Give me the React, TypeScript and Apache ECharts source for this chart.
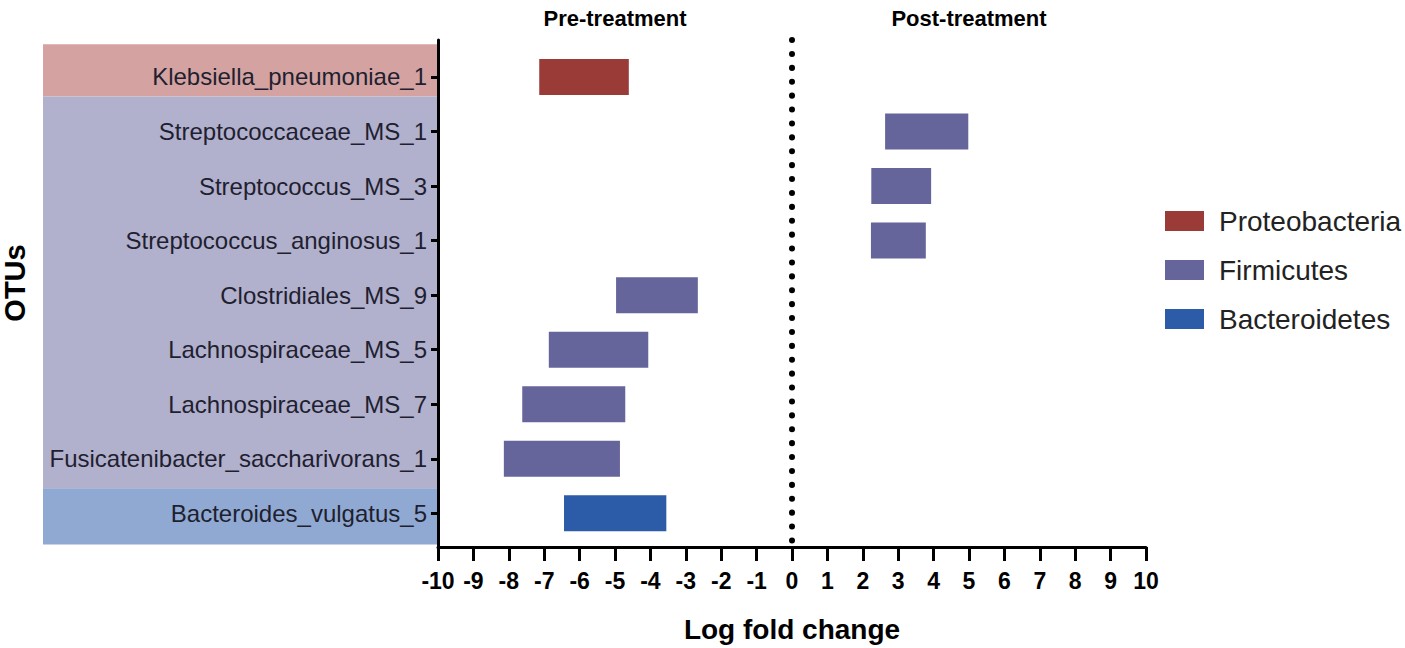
import React, { useEffect, useRef } from "react";
import * as echarts from "echarts";

const otus = [
  "Klebsiella_pneumoniae_1",
  "Streptococcaceae_MS_1",
  "Streptococcus_MS_3",
  "Streptococcus_anginosus_1",
  "Clostridiales_MS_9",
  "Lachnospiraceae_MS_5",
  "Lachnospiraceae_MS_7",
  "Fusicatenibacter_saccharivorans_1",
  "Bacteroides_vulgatus_5",
];
const phyla = ["Proteobacteria", "Firmicutes", "Bacteroidetes"];
const phylumColors = ["#9a3b38", "#66659b", "#2c5ba7"];
const bandColors = ["#d4a3a1", "#b1b0cd", "#8fa9d2"];
// [start, end, otuIndex]
const proteobacteria = [[-7.14, -4.61, 0]];
const firmicutes = [
  [2.63, 4.98, 1],
  [2.24, 3.93, 2],
  [2.23, 3.78, 3],
  [-4.97, -2.66, 4],
  [-6.87, -4.06, 5],
  [-7.62, -4.71, 6],
  [-8.14, -4.86, 7],
];
const bacteroidetes = [[-6.44, -3.55, 8]];
// background bands [fromIndex, toIndex, phylumIndex]
const bands = [
  [-0.6, 0.36, 0],
  [0.36, 7.54, 1],
  [7.54, 8.57, 2],
];
const xTicks = { min: -10, max: 10, interval: 1 };
const yRange = { min: -0.677, max: 8.617 };

const FONT = "'Liberation Sans', Arial, sans-serif";

export default function App() {
  const ref = useRef<HTMLDivElement>(null);
  useEffect(() => {
    const chart = echarts.init(ref.current!, null, { renderer: "svg" });
    const barRender = (params: any, api: any) => {
      const s = api.coord([api.value(0), api.value(2)]);
      const e = api.coord([api.value(1), api.value(2)]);
      const h = api.size([0, 0.66])[1];
      return {
        type: "rect",
        shape: { x: s[0], y: s[1] - h / 2, width: e[0] - s[0], height: h },
        style: api.style(),
      };
    };
    const bandRender = (params: any, api: any) => {
      const a = api.coord([-10, api.value(0)]);
      const b = api.coord([-10, api.value(1)]);
      const left = params.coordSys.x - 395;
      return {
        type: "rect",
        shape: { x: left, y: a[1], width: params.coordSys.x - left, height: b[1] - a[1] },
        style: { fill: bandColors[api.value(2)] },
      };
    };
    const mkSeries = (name: string, data: number[][], color: string, extra: any = {}) => ({
      type: "custom",
      name,
      data,
      renderItem: barRender,
      itemStyle: { color },
      encode: { x: [0, 1], y: 2 },
      clip: false,
      ...extra,
    });
    chart.setOption({
      animation: false,
      grid: { left: 438, right: 259, top: 40, bottom: 100, containLabel: false },
      legend: {
        data: phyla,
        orient: "vertical",
        left: 1160,
        top: 202,
        icon: "rect",
        itemWidth: 39,
        itemHeight: 20,
        itemGap: 21,
        textStyle: { fontFamily: FONT, fontSize: 28, color: "#222", padding: [0, 0, 0, 10] },
      },
      xAxis: {
        type: "value",
        min: xTicks.min,
        max: xTicks.max,
        interval: xTicks.interval,
        z: 5,
        axisLine: { onZero: false, lineStyle: { color: "#000", width: 3 } },
        axisTick: { length: 14, lineStyle: { color: "#000", width: 3 } },
        axisLabel: {
          fontFamily: FONT,
          fontSize: 23,
          fontWeight: "bold",
          color: "#000",
          margin: 22,
          showMinLabel: true,
          showMaxLabel: true,
          hideOverlap: false,
        },
        splitLine: { show: false },
        name: "Log fold change",
        nameLocation: "middle",
        nameGap: 68,
        nameTextStyle: { fontFamily: FONT, fontSize: 28, fontWeight: "bold", color: "#000" },
      },
      yAxis: {
        type: "value",
        inverse: true,
        min: yRange.min,
        max: yRange.max,
        z: 5,
        axisLine: { onZero: false, lineStyle: { color: "#000", width: 3 } },
        axisTick: { length: 7, customValues: otus.map((_, i) => i), lineStyle: { color: "#000", width: 3 } },
        axisLabel: {
          customValues: otus.map((_, i) => i),
          formatter: (v: number) => otus[Math.round(v)] ?? "",
          fontFamily: FONT,
          fontSize: 24,
          color: "#1f1f30",
          margin: 11,
        },
        splitLine: { show: false },
      },
      graphic: [
        { type: "text", x: 15, y: 283, rotation: Math.PI / 2, style: { text: "OTUs", font: `bold 29px ${FONT}`, fill: "#000", textAlign: "center", textVerticalAlign: "middle" } },
        { type: "text", x: 615, y: 18, style: { text: "Pre-treatment", font: `bold 22px ${FONT}`, fill: "#000", textAlign: "center", textVerticalAlign: "middle" } },
        { type: "text", x: 969, y: 18, style: { text: "Post-treatment", font: `bold 22px ${FONT}`, fill: "#000", textAlign: "center", textVerticalAlign: "middle" } },
      ],
      series: [
        {
          type: "custom",
          name: "bands",
          data: bands,
          renderItem: bandRender,
          encode: { y: [0, 1] },
          clip: false,
          z: 0,
          silent: true,
        },
        mkSeries(phyla[0], proteobacteria, phylumColors[0], {
          markLine: {
            silent: true,
            symbol: "none",
            label: { show: false },
            lineStyle: { color: "#000", width: 6, type: [0.1, 13.8], cap: "round" },
            data: [{ xAxis: 0 }],
          },
        }),
        mkSeries(phyla[1], firmicutes, phylumColors[1]),
        mkSeries(phyla[2], bacteroidetes, phylumColors[2]),
      ],
    });
    return () => chart.dispose();
  }, []);
  return (
    <div
      ref={ref}
      style={{ position: "fixed", left: 0, top: 0, width: 1405, height: 648, background: "#fff" }}
    />
  );
}
